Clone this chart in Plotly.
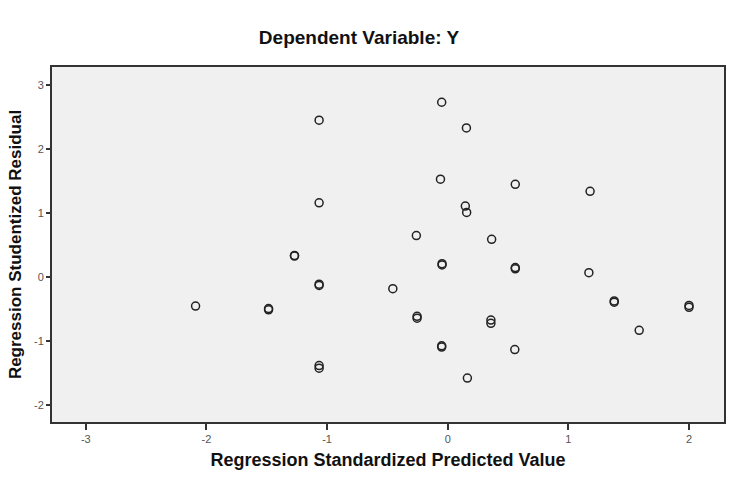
import plotly.graph_objects as go

# Regression Standardized Predicted Value
pred = [-0.05, 0.155, -1.066, -0.06, 0.56, 1.18, -1.066, 0.146, 0.157,
        -0.26, 0.364, -1.27, -1.27, -0.047, -0.047, 0.56, 0.56, 1.17,
        -1.066, -1.066, -0.455, -2.09, -1.485, -1.485, 1.38, 1.38,
        2.0, 2.0, -0.254, -0.254, 0.358, 0.358, 1.587, -0.05, -0.05,
        0.556, 0.163, -1.066, -1.066]
# Regression Studentized Residual
resid = [2.73, 2.33, 2.45, 1.53, 1.45, 1.34, 1.16, 1.11, 1.01,
         0.65, 0.59, 0.34, 0.33, 0.21, 0.19, 0.15, 0.13, 0.07,
         -0.11, -0.13, -0.18, -0.45, -0.49, -0.51, -0.37, -0.39,
         -0.44, -0.47, -0.61, -0.64, -0.67, -0.72, -0.83, -1.07, -1.09,
         -1.13, -1.575, -1.38, -1.42]

x_ticks = [-3, -2, -1, 0, 1, 2]
x_labels = ["-3", "-2", "-1", "0", "1", "2"]
y_ticks = [-2, -1, 0, 1, 2, 3]
y_labels = ["-2", "-1", "0", "1", "2", "3"]

FONT = "Liberation Sans Narrow, Arial Narrow, Liberation Sans, Arial, sans-serif"

fig = go.Figure(go.Scatter(
    x=pred, y=resid, mode="markers",
    marker=dict(symbol="circle-open", size=8, color="#222",
                line=dict(width=1.5, color="#222")),
    showlegend=False, hoverinfo="x+y"))

fig.update_layout(
    width=730, height=479,
    margin=dict(l=52, r=4, t=67, b=57),
    paper_bgcolor="white", plot_bgcolor="#f0f0f0",
    title=dict(text="<b>Dependent Variable: Y</b>", x=359/730, xanchor="center",
               y=1 - 37/479, yanchor="middle",
               font=dict(family=FONT, size=19, color="#111")),
    font=dict(family=FONT),
)
fig.update_xaxes(
    range=[-3.28, 2.29], tickvals=x_ticks, ticktext=x_labels,
    ticks="outside", ticklen=6, tickwidth=1.5, tickcolor="#333",
    tickfont=dict(size=11, color="#555"),
    showgrid=False, zeroline=False, showline=True, mirror=True,
    linecolor="#333", linewidth=2,
    title=dict(text="<b>Regression Standardized Predicted Value</b>",
               font=dict(size=18, color="#111"), standoff=9),
)
fig.update_yaxes(
    range=[-2.26, 3.28], tickvals=y_ticks, ticktext=y_labels,
    ticks="outside", ticklen=4, tickwidth=1.5, tickcolor="#333",
    tickfont=dict(size=11, color="#555"),
    showgrid=False, zeroline=False, showline=True, mirror=True,
    linecolor="#333", linewidth=2,
    title=dict(text="<b>Regression Studentized Residual</b>",
               font=dict(size=17, color="#111"), standoff=8),
)

fig.write_html("out.html")
